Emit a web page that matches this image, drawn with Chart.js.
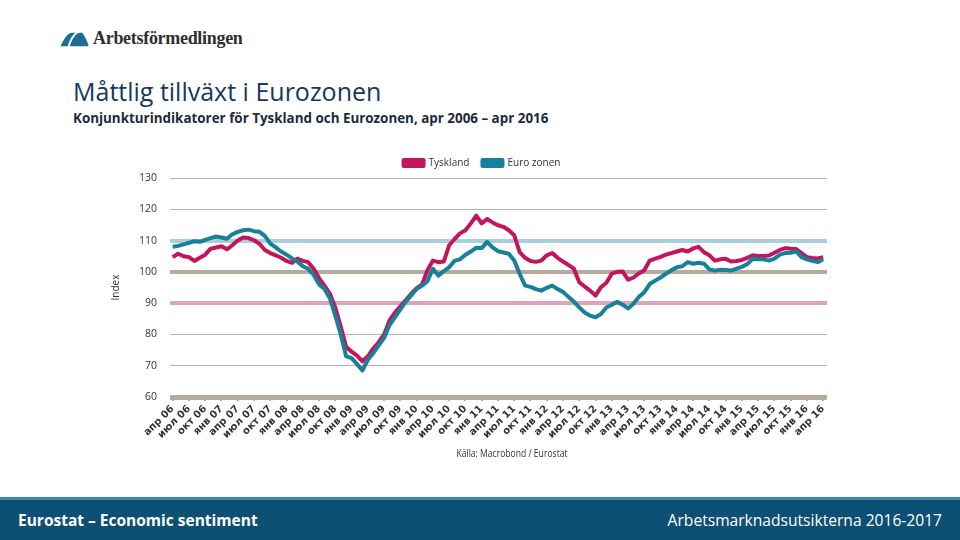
<!DOCTYPE html>
<html>
<head>
<meta charset="utf-8">
<script src="https://cdn.jsdelivr.net/npm/chart.js@4.4.1/dist/chart.umd.min.js"></script>
<style>
  html,body{margin:0;padding:0;background:#fff;}
  body{width:960px;height:540px;position:relative;overflow:hidden;font-family:"Open Sans",Arial,sans-serif;}
  #logo{position:absolute;left:60px;top:29px;height:20px;}
  #logotext{position:absolute;left:93px;top:28px;font-family:"Liberation Serif","DejaVu Serif",serif;font-weight:bold;font-size:18px;color:#2e2e2e;letter-spacing:-0.3px;}
  #title{position:absolute;left:73px;top:74px;font-family:"Open Sans",sans-serif;font-size:25px;color:#17375e;font-weight:500;}
  #subtitle{position:absolute;left:73px;top:109px;font-family:"Open Sans",sans-serif;font-size:13.4px;font-weight:bold;color:#1b2a3c;}
  #source{position:absolute;left:412px;width:200px;top:445px;text-align:center;font-family:"Open Sans",sans-serif;font-size:11px;color:#333;transform:scaleX(0.78);}
  #chartwrap{position:absolute;left:105px;top:145px;width:748px;height:310px;}
  #footer{position:absolute;left:0;top:497px;width:960px;height:43px;background:#0d5074;border-top:3px solid #3d89a9;box-sizing:border-box;}
  #fleft{position:absolute;left:18px;top:9px;color:#fff;font-family:"Open Sans",sans-serif;font-weight:bold;font-size:15.5px;}
  #fright{position:absolute;right:18px;top:9px;color:#fff;font-family:"Open Sans",sans-serif;font-size:15.6px;}
</style>
</head>
<body>
<svg id="logo" width="30" height="20" viewBox="0 0 32 22">
  <path d="M0 19 C4 10 8 5 12 4 L17 4 C13 6 10 12 8 19 Z" fill="#1e6f8f"/>
  <path d="M10 19 C13 11 16 5 21 4 L24 4 C27 8 30 14 31 19 Z" fill="#1e6f8f"/>
</svg>
<div id="logotext">Arbetsförmedlingen</div>
<div id="title">Måttlig tillväxt i Eurozonen</div>
<div id="subtitle">Konjunkturindikatorer för Tyskland och Eurozonen, apr 2006 – apr 2016</div>
<div id="chartwrap"><canvas id="c" width="748" height="310"></canvas></div>
<div id="source">Källa: Macrobond / Eurostat</div>
<div id="footer"><div id="fleft">Eurostat – Economic sentiment</div><div id="fright">Arbetsmarknadsutsikterna 2016-2017</div></div>
<script>
// Quarterly tick labels (every 3rd month), apr 2006 – apr 2016
const tickLabels = [
  'апр 06','июл 06','окт 06','янв 07','апр 07','июл 07','окт 07','янв 08','апр 08','июл 08','окт 08',
  'янв 09','апр 09','июл 09','окт 09','янв 10','апр 10','июл 10','окт 10','янв 11','апр 11','июл 11','окт 11',
  'янв 12','апр 12','июл 12','окт 12','янв 13','апр 13','июл 13','окт 13','янв 14','апр 14','июл 14','окт 14',
  'янв 15','апр 15','июл 15','окт 15','янв 16','апр 16'
];
const seriesNames = ['Tyskland', 'Euro zonen'];
// Monthly values, apr 2006 .. apr 2016 (121 months)
const tyskland = [
  104.7,105.8,105.0,104.7,103.5,104.5,105.5,107.4,107.8,108.2,107.2,108.5,
  110.0,111.0,110.8,110.1,109.0,107.0,106.0,105.3,104.5,103.5,102.9,104.2,
  103.5,103.1,101.0,98.0,95.6,93.0,88.5,82.5,76.0,74.5,73.2,71.4,
  73.0,75.5,77.5,80.0,84.5,87.0,89.0,91.0,93.0,94.8,96.0,100.5,
  103.6,103.1,103.3,108.5,110.5,112.3,113.3,115.5,118.0,115.5,116.9,115.8,
  114.9,114.4,113.3,111.7,106.3,104.5,103.5,103.2,103.6,105.3,106.0,104.5,
  103.3,102.2,101.0,96.7,95.3,94.0,92.4,95.1,96.5,99.4,100.0,100.1,
  97.5,98.2,99.5,100.5,103.6,104.2,104.8,105.5,106.0,106.5,107.0,106.5,
  107.5,108.0,106.3,105.3,103.6,104.0,104.2,103.3,103.5,103.8,104.5,105.3,
  105.1,105.1,105.2,106.1,107.0,107.6,107.4,107.3,106.0,104.7,104.4,104.3,
  104.7
];
const euroZonen = [
  108.0,108.3,108.8,109.3,109.8,109.6,110.2,110.8,111.3,111.0,110.6,112.0,
  112.8,113.3,113.5,113.0,112.8,111.5,109.0,107.8,106.5,105.5,104.3,103.3,
  101.8,101.0,99.0,96.0,94.5,91.5,86.0,80.0,73.0,72.4,70.5,68.5,
  71.9,74.0,76.5,78.9,83.0,85.5,88.0,90.5,92.5,94.5,95.6,97.0,
  101.0,98.8,100.2,101.5,103.5,104.0,105.5,106.5,107.7,107.6,109.6,107.8,
  106.6,106.2,105.8,103.6,99.4,95.6,95.2,94.5,94.0,94.9,95.6,94.5,
  93.6,92.0,90.5,88.6,87.0,86.0,85.5,86.5,88.6,89.5,90.4,89.5,
  88.3,89.8,92.0,93.5,96.1,97.2,98.2,99.4,100.5,101.5,101.8,103.1,
  102.6,102.9,102.6,100.8,100.4,100.7,100.6,100.4,101.0,101.6,102.5,104.2,
  104.0,104.0,103.6,104.2,105.5,106.0,106.1,106.6,104.7,104.0,103.5,103.1,
  104.0
];
const yTicks = [60,70,80,90,100,110,120,130];

const refColors = {110:'#a9cfda', 100:'#b3ab9c', 90:'#e3a2bc', 60:'#b3ab9c'};
const refWidths = {110:4, 100:4, 90:4, 60:5};

const toPts = arr => arr.map((v,i)=>({x:i, y:v}));

// shift the centred legend slightly right, as in the reference
const legendShift = {
  id:'legendShift',
  afterLayout(chart){ if(chart.legend){ chart.legend.left += 16; chart.legend.right += 16; } }
};

new Chart(document.getElementById('c'), {
  type: 'line',
  data: {
    datasets: [
      {label: seriesNames[0], data: toPts(tyskland), borderColor:'#c4155b', backgroundColor:'#c4155b',
       borderWidth:4, pointRadius:0, tension:0, borderJoinStyle:'round', order:1},
      {label: seriesNames[1], data: toPts(euroZonen), borderColor:'#17809b', backgroundColor:'#17809b',
       borderWidth:4, pointRadius:0, tension:0, borderJoinStyle:'round', order:0}
    ]
  },
  plugins:[legendShift],
  options: {
    responsive:false, animation:false,
    layout:{padding:{top:0,bottom:8,left:0,right:26}},
    plugins:{
      legend:{
        display:true, position:'top',
        labels:{boxWidth:20, boxHeight:6, padding:13, color:'#333',
                font:{family:'"Open Sans",sans-serif', size:10},
                sort:(a,b)=>a.datasetIndex-b.datasetIndex}
      },
      tooltip:{enabled:false}
    },
    scales:{
      x:{
        type:'linear', min:-0.5, max:120.7,
        afterBuildTicks: s => { s.ticks = tickLabels.map((t,i)=>({value:i*3})); },
        afterFit: s => { s.height = 50; },
        border:{display:false},
        grid:{drawOnChartArea:false, drawTicks:true, tickLength:4, color:'#b3ab9c', lineWidth:2},
        ticks:{autoSkip:false, maxRotation:45, minRotation:45, padding:2, color:'#333',
               font:{family:'"DejaVu Sans",sans-serif', size:10, weight:'bold'},
               callback: v => tickLabels[Math.round(v/3)]}
      },
      y:{
        min:60, max:130,
        afterBuildTicks: s => { s.ticks = yTicks.map(v=>({value:v})); },
        afterFit: s => { s.width = 65; },
        border:{display:false},
        title:{display:true, text:'Index', color:'#333', padding:{top:5,bottom:0},
               font:{family:'"Open Sans",sans-serif', size:10}},
        grid:{drawTicks:false,
              color: ctx => refColors[ctx.tick && ctx.tick.value] || '#b8b3ab',
              lineWidth: ctx => refWidths[ctx.tick && ctx.tick.value] || 1},
        ticks:{padding:13, color:'#333',
               font:{family:'"Open Sans",sans-serif', size:10.5}}
      }
    }
  }
});
</script>
</body>
</html>
